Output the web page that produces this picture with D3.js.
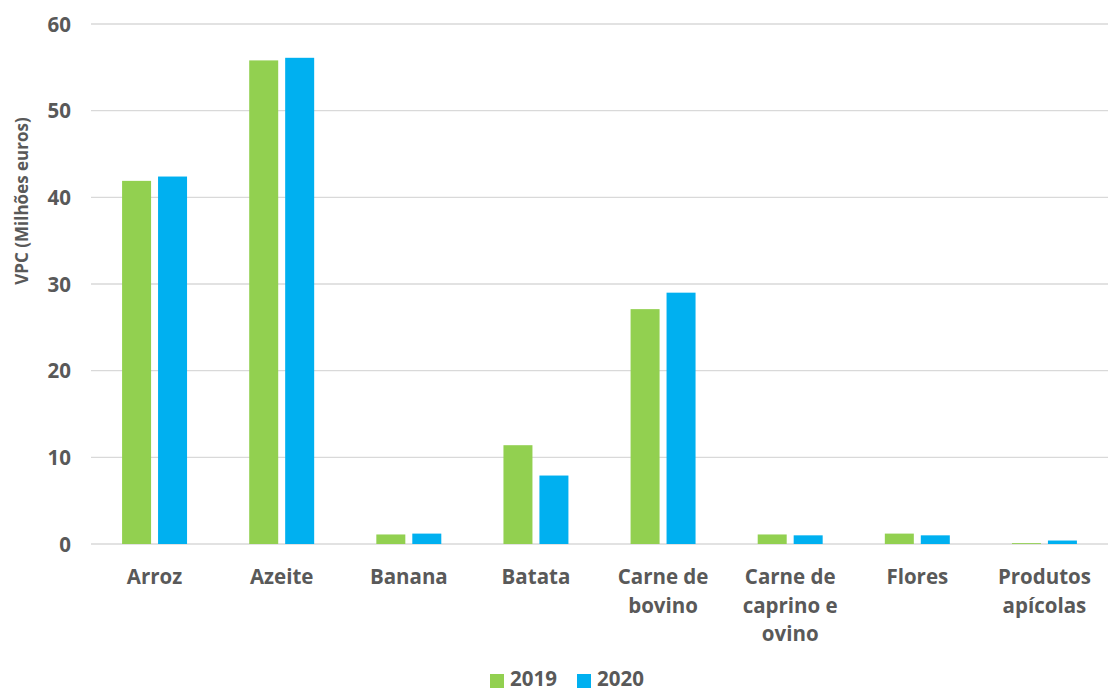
<!DOCTYPE html>
<html>
<head>
<meta charset="utf-8">
<script src="https://cdn.jsdelivr.net/npm/d3@7/dist/d3.min.js"></script>
<style>
  html, body { margin: 0; padding: 0; background: #fff; }
  svg text { font-family: "Open Sans", "Noto Sans", sans-serif; font-weight: bold; fill: #595959; }
</style>
</head>
<body>
<svg id="chart" width="1110" height="693"></svg>
<script>
// Categories (multi-line labels split with "\n")
const categories = ["Arroz", "Azeite", "Banana", "Batata", "Carne de\nbovino", "Carne de\ncaprino e\novino", "Flores", "Produtos\napícolas"];
const seriesNames = ["2019", "2020"];
const values2019 = [41.9, 55.8, 1.1, 11.4, 27.1, 1.1, 1.2, 0.1];
const values2020 = [42.4, 56.1, 1.2, 7.9, 29.0, 1.0, 1.0, 0.4];
const yTicks = [0, 10, 20, 30, 40, 50, 60];
const colors = ["#92D050", "#00B0F0"];

const svg = d3.select("#chart");
const margin = { left: 91, right: 2, top: 24, bottom: 149 };
const width = 1110, height = 693;

const x = d3.scaleBand().domain(categories).range([margin.left, width - margin.right]).paddingInner(0).paddingOuter(0);
const inner = d3.scaleBand().domain(seriesNames).range([0, x.bandwidth()]).paddingInner(0.194).paddingOuter(0.864);
const y = d3.scaleLinear().domain([0, 60]).range([height - margin.bottom, margin.top]);

// Horizontal gridlines
svg.append("g").selectAll("line").data(yTicks).join("line")
  .attr("x1", margin.left).attr("x2", width - margin.right)
  .attr("y1", d => y(d)).attr("y2", d => y(d))
  .attr("stroke", "#D9D9D9").attr("stroke-width", 1.3);

// Y tick labels
const yAxis = d3.axisLeft(y).tickValues(yTicks).tickSize(0).tickPadding(0);
const gy = svg.append("g").attr("transform", `translate(${margin.left - 20},0)`).call(yAxis);
gy.select(".domain").remove();
gy.selectAll("text").attr("font-size", 20.5).attr("dy", "0.35em").style("font-family", '"Open Sans", sans-serif');

// Y axis title
svg.append("text")
  .attr("transform", "translate(28,201) rotate(-90)")
  .attr("text-anchor", "middle")
  .attr("font-size", 17)
  .text("VPC (Milhões euros)");

// Bars
const data = categories.map((c, i) => ({ cat: c, vals: [values2019[i], values2020[i]] }));
const groups = svg.append("g").selectAll("g").data(data).join("g")
  .attr("transform", d => `translate(${x(d.cat)},0)`);
groups.selectAll("rect").data(d => d.vals.map((v, j) => ({ v, s: seriesNames[j], j })))
  .join("rect")
  .attr("x", d => inner(d.s))
  .attr("width", inner.bandwidth())
  .attr("y", d => y(d.v))
  .attr("height", d => y(0) - y(d.v))
  .attr("fill", d => colors[d.j]);

// Category labels
const xl = svg.append("g").selectAll("text").data(categories).join("text")
  .attr("text-anchor", "middle")
  .attr("font-size", 20.5)
  .attr("x", d => x(d) + x.bandwidth() / 2)
  .attr("y", y(0) + 40);
xl.selectAll("tspan").data(d => d.split("\n")).join("tspan")
  .attr("x", function () { return d3.select(this.parentNode).attr("x"); })
  .attr("dy", (d, i) => i === 0 ? 0 : 28.5)
  .text(d => d);

// Legend
const legend = svg.append("g").attr("transform", "translate(490,674)");
const items = legend.selectAll("g").data(seriesNames).join("g")
  .attr("transform", (d, i) => `translate(${i * 87},0)`);
items.append("rect").attr("width", 14).attr("height", 14).attr("fill", (d, i) => colors[i]);
items.append("text").attr("x", 20).attr("y", 12).attr("font-size", 20.5).text(d => d);
</script>
</body>
</html>
